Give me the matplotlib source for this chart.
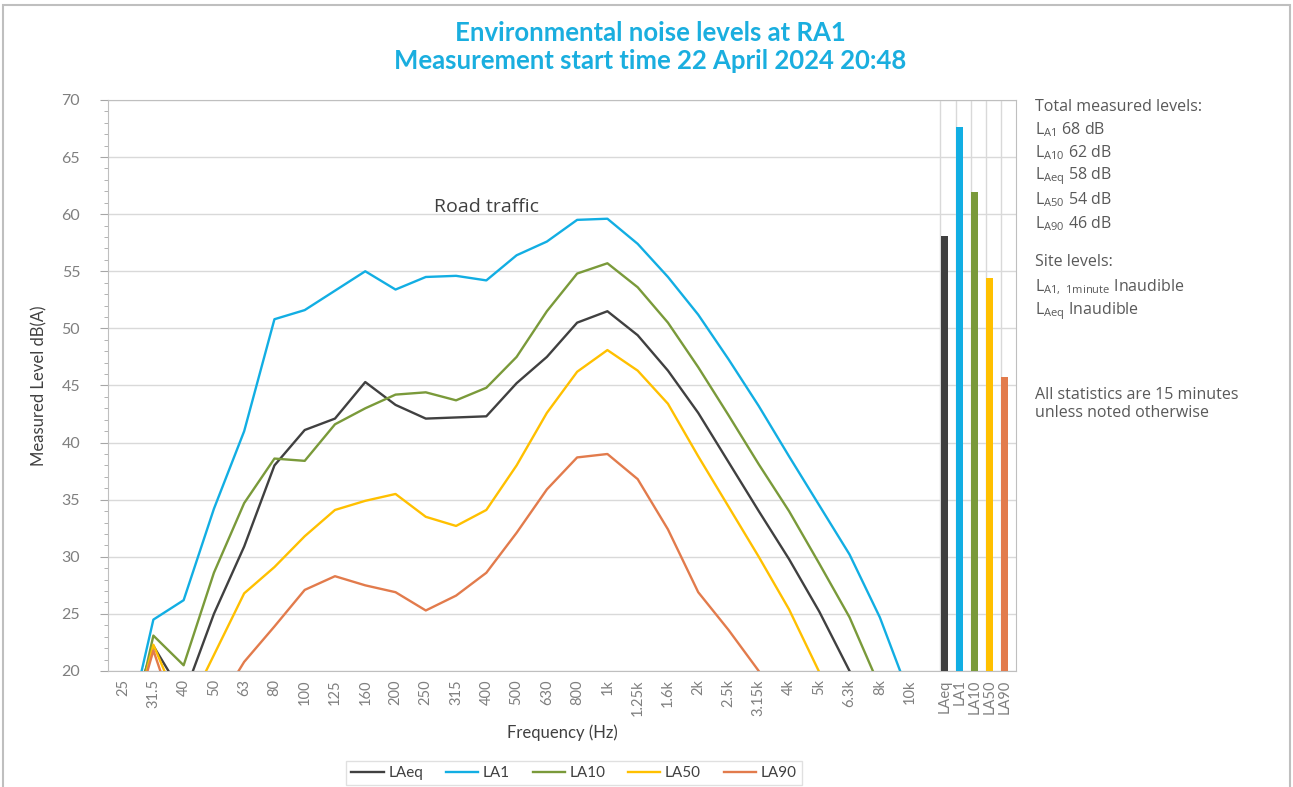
import matplotlib.pyplot as plt
import matplotlib.patches as patches
import numpy as np

# -----------------------------------
# Data
# -----------------------------------
freqs = ["25", "31.5", "40", "50", "63", "80", "100", "125", "160", "200", "250",
         "315", "400", "500", "630", "800", "1k", "1.25k", "1.6k", "2k", "2.5k",
         "3.15k", "4k", "5k", "6.3k", "8k", "10k"]

laeq = [14.0, 22.2, 17.8, 25.0, 30.9, 38.0, 41.1, 42.1, 45.3, 43.3, 42.1, 42.2, 42.3,
        45.2, 47.5, 50.5, 51.5, 49.4, 46.3, 42.6, 38.3, 34.0, 29.8, 25.2, 20.0, 15.5, 11.0]
la1 = [12.9, 24.5, 26.2, 34.2, 41.0, 50.8, 51.6, 53.3, 55.0, 53.4, 54.5, 54.6, 54.2,
       56.4, 57.6, 59.5, 59.6, 57.4, 54.5, 51.2, 47.3, 43.2, 38.8, 34.5, 30.2, 24.7, 17.7]
la10 = [11.2, 23.1, 20.5, 28.6, 34.7, 38.6, 38.4, 41.6, 43.0, 44.2, 44.4, 43.7, 44.8,
        47.5, 51.5, 54.8, 55.7, 53.6, 50.5, 46.6, 42.4, 38.1, 34.0, 29.4, 24.7, 18.6, 13.0]
la50 = [12.0, 22.3, 16.0, 21.4, 26.8, 29.1, 31.8, 34.1, 34.9, 35.5, 33.5, 32.7, 34.1,
        38.0, 42.6, 46.2, 48.1, 46.3, 43.4, 38.8, 34.4, 30.0, 25.4, 19.9, 14.5, 9.0, 5.0]
la90 = [12.5, 21.8, 14.0, 16.5, 20.8, 23.9, 27.1, 28.3, 27.5, 26.9, 25.3, 26.6, 28.6,
        32.1, 35.9, 38.7, 39.0, 36.8, 32.4, 26.9, 23.6, 20.0, 15.5, 11.0, 7.0, 4.0, 2.0]

bar_labels = ["LAeq", "LA1", "LA10", "LA50", "LA90"]
bar_values = [58.1, 67.6, 61.9, 54.4, 45.7]

series = [laeq, la1, la10, la50, la90]
colors = ["#404040", "#12AEE3", "#7A9A3A", "#FFC000", "#E27B4C"]

# -----------------------------------
# Plot setup
# -----------------------------------
plt.rcParams.update({
    "font.family": ["Lato", "DejaVu Sans"],
    "mathtext.fontset": "custom",
    "mathtext.rm": "Open Sans",
    "mathtext.it": "Open Sans",
})

fig = plt.figure(figsize=(12.93, 7.87), dpi=100)
ax = fig.add_axes([0.0835, 0.1474, 0.7023, 0.7256])

x = np.arange(len(freqs))
for vals, lab, col in zip(series, bar_labels, colors):
    ax.plot(x, vals, color=col, lw=1.7, label=lab, zorder=3)

# bar block sits just right of its grid lines
xgrid_bars = len(freqs) + 0.5 * np.arange(len(bar_labels))
xb = xgrid_bars + 0.13
ax.bar(xb, bar_values, width=0.23, color=colors, zorder=3)

ax.set_xlim(-0.5, xgrid_bars[-1] + 0.5)
ax.set_ylim(20, 70)

ax.set_xticks(np.concatenate([x, xb]))
ax.set_xticklabels(freqs + bar_labels, rotation=90, color="#7f7f7f", fontsize=10.5)
ax.set_xticks(np.concatenate([x, xgrid_bars]), minor=True)
ax.tick_params(axis="x", which="both", length=0, pad=6)
ax.set_yticks(np.arange(20, 71, 5))
ax.set_yticks(np.arange(20, 71, 1), minor=True)
ax.tick_params(axis="y", which="major", length=6, color="#a6a6a6", labelcolor="#7f7f7f",
               labelsize=11.5, pad=14)
ax.tick_params(axis="y", which="minor", length=3, color="#a6a6a6")

ax.grid(True, axis="y", which="major", color="#d9d9d9", lw=1.0, zorder=0)
ax.grid(True, axis="x", which="minor", color="#d9d9d9", lw=1.0, zorder=0)
for s in ax.spines.values():
    s.set_color("#bfbfbf")

ax.set_xlabel("Frequency (Hz)", fontsize=12, color="#404040", labelpad=6)
ax.set_ylabel("Measured Level dB(A)", fontsize=12, color="#404040", labelpad=10)

ax.text(12, 60.6, "Road traffic", fontsize=14, color="#404040", ha="center", va="center",
        family="Open Sans")

handles, labels = ax.get_legend_handles_labels()
leg = fig.legend(handles, labels, loc="center", bbox_to_anchor=(574 / 1293, 1 - 773 / 787),
                 ncol=5, frameon=True, fontsize=11, handlelength=2.1, handletextpad=0.3,
                 columnspacing=1.5, fancybox=False, borderpad=0.35)
leg.get_frame().set_edgecolor("#d9d9d9")
for t in leg.get_texts():
    t.set_color("#404040")

# -----------------------------------
# Titles and side notes
# -----------------------------------
fig.text(0.503, 0.958, "Environmental noise levels at RA1", ha="center", va="center",
         fontsize=18.5, fontweight="bold", color="#1AAEDF")
fig.text(0.503, 0.923, "Measurement start time 22 April 2024 20:48", ha="center", va="center",
         fontsize=18.5, fontweight="bold", color="#1AAEDF")

notes = [
    (107, "Total measured levels:"),
    (130, r"L$_{\mathrm{A1}}$ 68 dB"),
    (153, r"L$_{\mathrm{A10}}$ 62 dB"),
    (176, r"L$_{\mathrm{Aeq}}$ 58 dB"),
    (200, r"L$_{\mathrm{A50}}$ 54 dB"),
    (224, r"L$_{\mathrm{A90}}$ 46 dB"),
    (262, "Site levels:"),
    (287, r"L$_{\mathrm{A1,\ 1minute}}$ Inaudible"),
    (311, r"L$_{\mathrm{Aeq}}$ Inaudible"),
    (395, "All statistics are 15 minutes"),
    (413, "unless noted otherwise"),
]
for ypx, txt in notes:
    fig.text(1035 / 1293, 1 - ypx / 787, txt, ha="left", va="center", fontsize=11.5,
             color="#595959", family="Open Sans")

# outer frame
fig.patches.append(patches.Rectangle((0.002, -0.05), 0.996, 1.044, transform=fig.transFigure,
                                     fill=False, edgecolor="#bfbfbf", lw=1.5))

plt.savefig("out.png", dpi=100)
